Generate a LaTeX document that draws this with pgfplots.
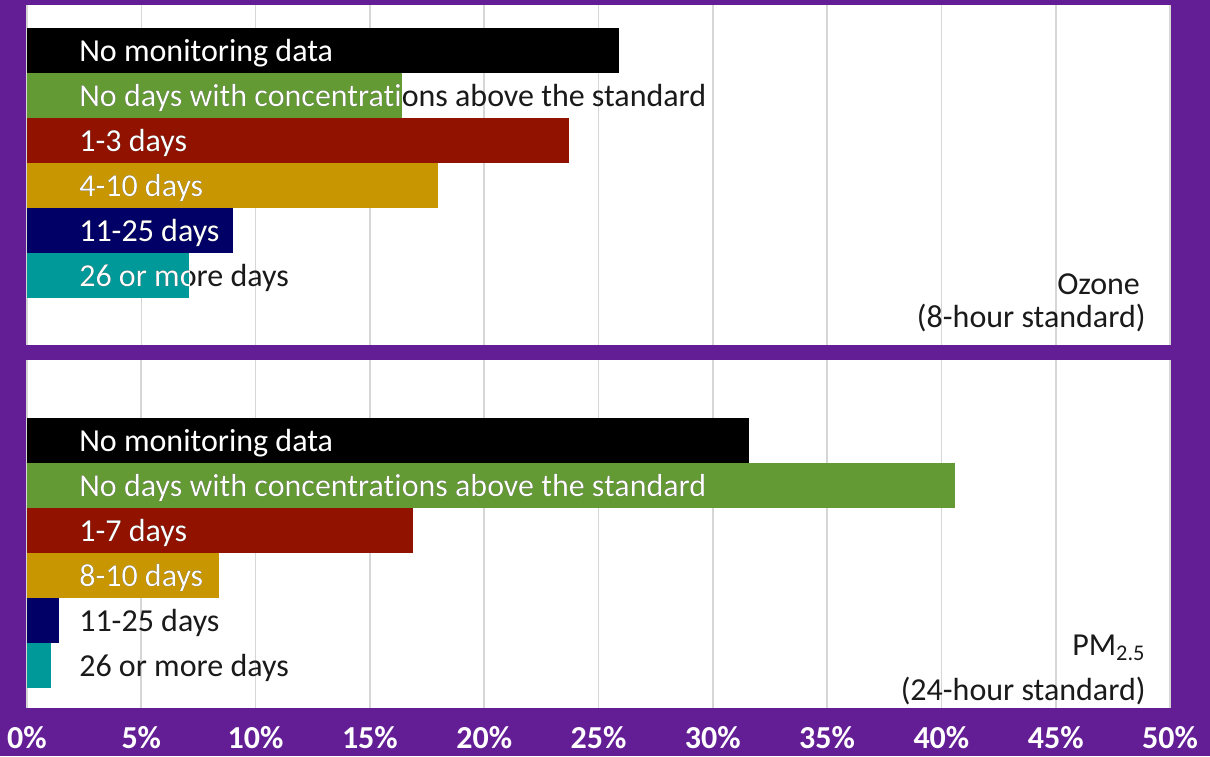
\documentclass[border=0pt]{standalone}
\usepackage{fontspec}
\setmainfont{Carlito}[Ligatures=NoCommon]
\usepackage{pgfplots}
\pgfplotsset{compat=1.18}
\definecolor{bgpurple}{HTML}{631E96}
\definecolor{cgreen}{HTML}{639A34}
\definecolor{cred}{HTML}{921200}
\definecolor{cgold}{HTML}{C89600}
\definecolor{cnavy}{HTML}{000066}
\definecolor{cteal}{HTML}{009999}
\definecolor{txt}{HTML}{1A1A1A}
\newcommand{\lfont}{\fontsize{16}{19}\selectfont}
\tikzset{lab/.style={anchor=base west, inner sep=0pt, font=\lfont}}
\newcommand{\twotone}[4]{%
  \node[lab, text=txt] at (#1) {#4};
  \begin{scope}\clip (#2) rectangle (#3);
  \node[lab, text=white] at (#1) {#4};\end{scope}}
\pgfplotsset{panel/.style={
  scale only axis, width=571.5pt, xmin=0, xmax=50,
  y dir=reverse, xbar, bar width=1, bar shift=0pt,
  axis line style={draw=none}, ytick=\empty,
  xtick={0,5,...,50}, xmajorgrids,
  grid style={color=black!16, line width=0.8pt},
  major tick length=0pt,
  axis background/.style={fill=white},
  every axis plot/.append style={draw=none}}}
\begin{document}
\begin{tikzpicture}
\fill[bgpurple] (0,0) rectangle (605pt,-378pt);
% ---- Ozone panel
\begin{axis}[panel, at={(13.5pt,-2.5pt)}, anchor=north west, height=170pt,
  ymin=-1.022, ymax=6.544, xticklabels={}]
\addplot[fill=black] coordinates {(25.9,0)};
\addplot[fill=cgreen] coordinates {(16.4,1)};
\addplot[fill=cred] coordinates {(23.7,2)};
\addplot[fill=cgold] coordinates {(18.0,3)};
\addplot[fill=cnavy] coordinates {(9.0,4)};
\addplot[fill=cteal] coordinates {(7.1,5)};
\coordinate (T0l) at (axis cs:2.27,0.244);\coordinate (T0a) at (axis cs:0,-0.5);\coordinate (T0b) at (axis cs:25.9,0.5);
\coordinate (T1l) at (axis cs:2.27,1.244);\coordinate (T1a) at (axis cs:0,0.5);\coordinate (T1b) at (axis cs:16.4,1.5);
\coordinate (T2l) at (axis cs:2.27,2.244);\coordinate (T2a) at (axis cs:0,1.5);\coordinate (T2b) at (axis cs:23.7,2.5);
\coordinate (T3l) at (axis cs:2.27,3.244);\coordinate (T3a) at (axis cs:0,2.5);\coordinate (T3b) at (axis cs:18.0,3.5);
\coordinate (T4l) at (axis cs:2.27,4.244);\coordinate (T4a) at (axis cs:0,3.5);\coordinate (T4b) at (axis cs:9.0,4.5);
\coordinate (T5l) at (axis cs:2.27,5.244);\coordinate (T5a) at (axis cs:0,4.5);\coordinate (T5b) at (axis cs:7.1,5.5);
\node[anchor=base east, inner sep=0pt, text=txt, font=\lfont] at (axis cs:48.7,5.422) {Ozone};
\node[anchor=base east, inner sep=0pt, text=txt, font=\lfont] at (axis cs:48.95,6.156) {(8-hour standard)};
\end{axis}
\twotone{T0l}{T0a}{T0b}{No monitoring data}
\twotone{T1l}{T1a}{T1b}{No days with concentrations above the standard}
\twotone{T2l}{T2a}{T2b}{1-3 days}
\twotone{T3l}{T3a}{T3b}{4-10 days}
\twotone{T4l}{T4a}{T4b}{11-25 days}
\twotone{T5l}{T5a}{T5b}{26 or more days}
% ---- PM2.5 panel
\begin{axis}[panel, at={(13.5pt,-180pt)}, anchor=north west, height=174pt,
  ymin=-1.789, ymax=5.944,
  xticklabel={\pgfmathprintnumber[assume math mode=true]{\tick}\%},
  xticklabel style={anchor=base, yshift=-20pt, text=white, font=\lfont\bfseries},
  tick label style={/pgf/number format/assume math mode=true}]
\addplot[fill=black] coordinates {(31.6,0)};
\addplot[fill=cgreen] coordinates {(40.6,1)};
\addplot[fill=cred] coordinates {(16.9,2)};
\addplot[fill=cgold] coordinates {(8.4,3)};
\addplot[fill=cnavy] coordinates {(1.4,4)};
\addplot[fill=cteal] coordinates {(1.05,5)};
\coordinate (B0l) at (axis cs:2.27,0.244);\coordinate (B0a) at (axis cs:0,-0.5);\coordinate (B0b) at (axis cs:31.6,0.5);
\coordinate (B1l) at (axis cs:2.27,1.244);\coordinate (B1a) at (axis cs:0,0.5);\coordinate (B1b) at (axis cs:40.6,1.5);
\coordinate (B2l) at (axis cs:2.27,2.244);\coordinate (B2a) at (axis cs:0,1.5);\coordinate (B2b) at (axis cs:16.9,2.5);
\coordinate (B3l) at (axis cs:2.27,3.244);\coordinate (B3a) at (axis cs:0,2.5);\coordinate (B3b) at (axis cs:8.4,3.5);
\coordinate (B4l) at (axis cs:2.27,4.244);\coordinate (B4a) at (axis cs:0,3.5);\coordinate (B4b) at (axis cs:1.4,4.5);
\coordinate (B5l) at (axis cs:2.27,5.244);\coordinate (B5a) at (axis cs:0,4.5);\coordinate (B5b) at (axis cs:1.05,5.5);
\node[anchor=base east, inner sep=0pt, text=txt, font=\lfont] at (axis cs:48.95,4.767) {PM\textsubscript{2.5}};
\node[anchor=base east, inner sep=0pt, text=txt, font=\lfont] at (axis cs:48.95,5.767) {(24-hour standard)};
\end{axis}
\twotone{B0l}{B0a}{B0b}{No monitoring data}
\twotone{B1l}{B1a}{B1b}{No days with concentrations above the standard}
\twotone{B2l}{B2a}{B2b}{1-7 days}
\twotone{B3l}{B3a}{B3b}{8-10 days}
\twotone{B4l}{B4a}{B4b}{11-25 days}
\twotone{B5l}{B5a}{B5b}{26 or more days}
\pgfresetboundingbox
\path[use as bounding box] (0,0) rectangle (605pt,-378pt);
\end{tikzpicture}
\end{document}
